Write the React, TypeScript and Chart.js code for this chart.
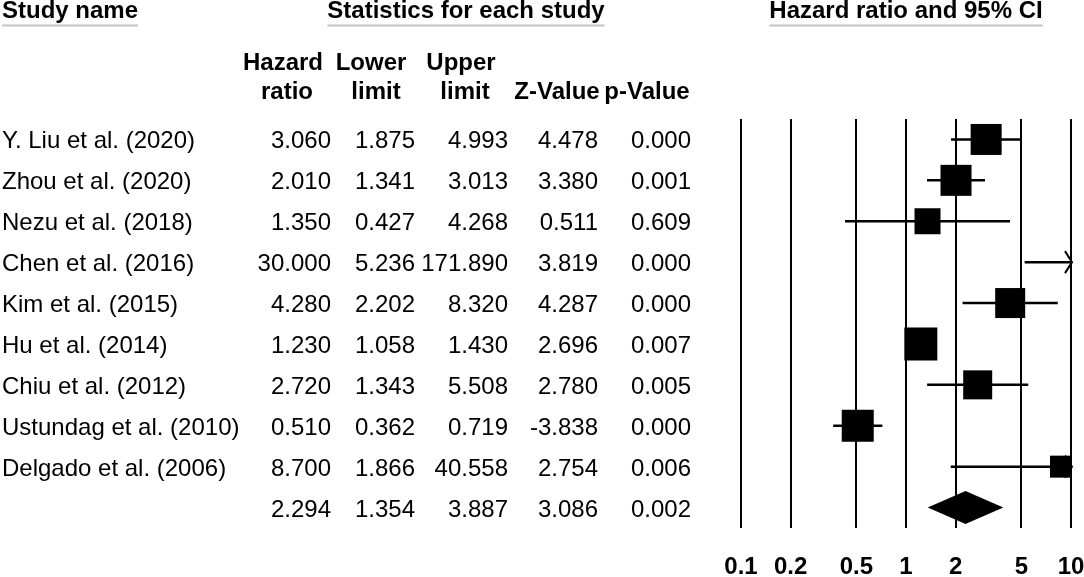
import React, { useEffect, useRef } from "react";
import { Chart, registerables } from "chart.js";

Chart.register(...registerables);

// ---------- data ----------
const studies = [
  "Y. Liu et al. (2020)",
  "Zhou et al. (2020)",
  "Nezu et al. (2018)",
  "Chen et al. (2016)",
  "Kim et al. (2015)",
  "Hu et al. (2014)",
  "Chiu et al. (2012)",
  "Ustundag et al. (2010)",
  "Delgado et al. (2006)",
];
const hazardRatio = [3.06, 2.01, 1.35, 30.0, 4.28, 1.23, 2.72, 0.51, 8.7];
const lowerLimit = [1.875, 1.341, 0.427, 5.236, 2.202, 1.058, 1.343, 0.362, 1.866];
const upperLimit = [4.993, 3.013, 4.268, 171.89, 8.32, 1.43, 5.508, 0.719, 40.558];
const zValue = [4.478, 3.38, 0.511, 3.819, 4.287, 2.696, 2.78, -3.838, 2.754];
const pValue = [0.0, 0.001, 0.609, 0.0, 0.0, 0.007, 0.005, 0.0, 0.006];

const summaryHR = 2.294;
const summaryLower = 1.354;
const summaryUpper = 3.887;
const summaryZ = 3.086;
const summaryP = 0.002;

const xTicks = [0.1, 0.2, 0.5, 1, 2, 5, 10];

// ---------- style ----------
const squareSides = [31, 31, 26, 20, 30, 33, 29, 32, 22]; // marker side (px), study weight
const FONT = "'Liberation Sans', Arial, Helvetica, sans-serif";
const W = 1084;
const H = 577;

const tablePlugin = {
  id: "forestTable",
  afterDraw(chart: any) {
    const ctx = chart.ctx as CanvasRenderingContext2D;
    const y = chart.scales.y;
    const area = chart.chartArea;
    ctx.save();
    ctx.fillStyle = "#000";

    // top headers with underline
    ctx.font = `bold 24px ${FONT}`;
    ctx.textBaseline = "alphabetic";
    const headers: [string, number, string][] = [
      ["Study name", 2, "left"],
      ["Statistics for each study", 466, "center"],
      ["Hazard ratio and 95% CI", (area.left + area.right) / 2, "center"],
    ];
    headers.forEach(([t, x, align]) => {
      ctx.textAlign = align as CanvasTextAlign;
      ctx.fillStyle = "#000";
      ctx.fillText(t, x, 18);
      const w = ctx.measureText(t).width;
      const x0 = align === "left" ? x : x - w / 2;
      ctx.strokeStyle = "#c4c4c4";
      ctx.lineWidth = 2;
      ctx.beginPath();
      ctx.moveTo(x0, 25.5);
      ctx.lineTo(x0 + w, 25.5);
      ctx.stroke();
    });

    // column headers
    ctx.textAlign = "center";
    const sub: [string, number, number][] = [
      ["Hazard", 283, 70],
      ["ratio", 287, 99],
      ["Lower", 371, 70],
      ["limit", 376, 99],
      ["Upper", 461, 70],
      ["limit", 465, 99],
      ["Z-Value", 557, 99],
      ["p-Value", 647, 99],
    ];
    sub.forEach(([t, x, yy]) => ctx.fillText(t, x, yy));

    // rows
    ctx.font = `24px ${FONT}`;
    const cols = [331, 415, 508, 598, 691];
    const rows = studies.map((s, i) => [
      s,
      hazardRatio[i],
      lowerLimit[i],
      upperLimit[i],
      zValue[i],
      pValue[i],
    ]);
    rows.push(["", summaryHR, summaryLower, summaryUpper, summaryZ, summaryP]);
    rows.forEach((r, i) => {
      const py = y.getPixelForValue(i) + 9;
      ctx.textAlign = "left";
      ctx.fillText(String(r[0]), 2, py);
      ctx.textAlign = "right";
      for (let c = 1; c < 6; c++) {
        ctx.fillText((r[c] as number).toFixed(3), cols[c - 1], py);
      }
    });
    ctx.restore();
  },
};

const marksPlugin = {
  id: "forestMarks",
  afterDatasetsDraw(chart: any) {
    const ctx = chart.ctx as CanvasRenderingContext2D;
    const x = chart.scales.x;
    const y = chart.scales.y;
    ctx.save();
    ctx.fillStyle = "#000";
    ctx.strokeStyle = "#000";
    ctx.lineWidth = 2;
    // arrows for CIs running off the right of the scale
    upperLimit.forEach((u, i) => {
      if (u > x.max) {
        const py = y.getPixelForValue(i);
        const tip = chart.chartArea.right + 1;
        ctx.beginPath();
        ctx.moveTo(tip - 7, py - 11);
        ctx.lineTo(tip, py);
        ctx.lineTo(tip - 7, py + 11);
        ctx.stroke();
      }
    });
    // summary diamond
    const sy = y.getPixelForValue(studies.length);
    const half = 16.5;
    ctx.beginPath();
    ctx.moveTo(x.getPixelForValue(summaryLower), sy);
    ctx.lineTo(x.getPixelForValue(summaryHR), sy - half);
    ctx.lineTo(x.getPixelForValue(summaryUpper), sy);
    ctx.lineTo(x.getPixelForValue(summaryHR), sy + half);
    ctx.closePath();
    ctx.fill();
    ctx.restore();
  },
};

export default function App() {
  const ref = useRef<HTMLCanvasElement>(null);
  useEffect(() => {
    if (!ref.current) return;
    const ciSets = studies.map((s, i) => ({
      label: s,
      data: [
        { x: lowerLimit[i], y: i },
        { x: upperLimit[i], y: i },
      ],
      showLine: true,
      borderColor: "#000",
      borderWidth: 2.5,
      pointRadius: 0,
      clip: 0,
      order: 2,
    }));
    const chart = new Chart(ref.current, {
      type: "scatter",
      data: {
        datasets: [
          {
            label: "Hazard ratio",
            data: hazardRatio.map((v, i) => ({ x: v, y: i })),
            pointStyle: "rect",
            pointRadius: squareSides.map((s) => s / Math.SQRT2),
            pointBackgroundColor: "#000",
            pointBorderWidth: 0,
            borderWidth: 0,
            clip: 0,
            order: 0,
          } as any,
          ...ciSets,
        ],
      },
      options: {
        responsive: false,
        animation: false,
        devicePixelRatio: 1,
        layout: { autoPadding: false, padding: { left: 741, right: 13, top: 119, bottom: 0 } },
        plugins: {
          legend: { display: false },
          tooltip: { enabled: false },
        },
        scales: {
          x: {
            type: "logarithmic",
            min: 0.1,
            max: 10,
            afterBuildTicks: (scale: any) => {
              scale.ticks = xTicks.map((v) => ({ value: v }));
            },
            afterFit: (scale: any) => {
              scale.height = 49;
              scale.paddingLeft = 0;
              scale.paddingRight = 0;
            },
            ticks: {
              autoSkip: false,
              maxRotation: 0,
              padding: 25,
              color: "#000",
              font: { family: FONT, size: 24, weight: "bold" },
              callback: (v: any) => String(v),
            },
            grid: { color: "#000", lineWidth: 2, drawTicks: false },
            border: { display: false },
          },
          y: {
            type: "linear",
            min: -0.5,
            max: studies.length + 0.5,
            reverse: true,
            display: false,
          },
        },
      } as any,
      plugins: [marksPlugin, tablePlugin],
    });
    return () => chart.destroy();
  }, []);
  return (
    <div style={{ position: "absolute", left: 0, top: 0, width: W, height: H, background: "#fff" }}>
      <canvas ref={ref} width={W} height={H} style={{ width: W, height: H }} />
    </div>
  );
}
